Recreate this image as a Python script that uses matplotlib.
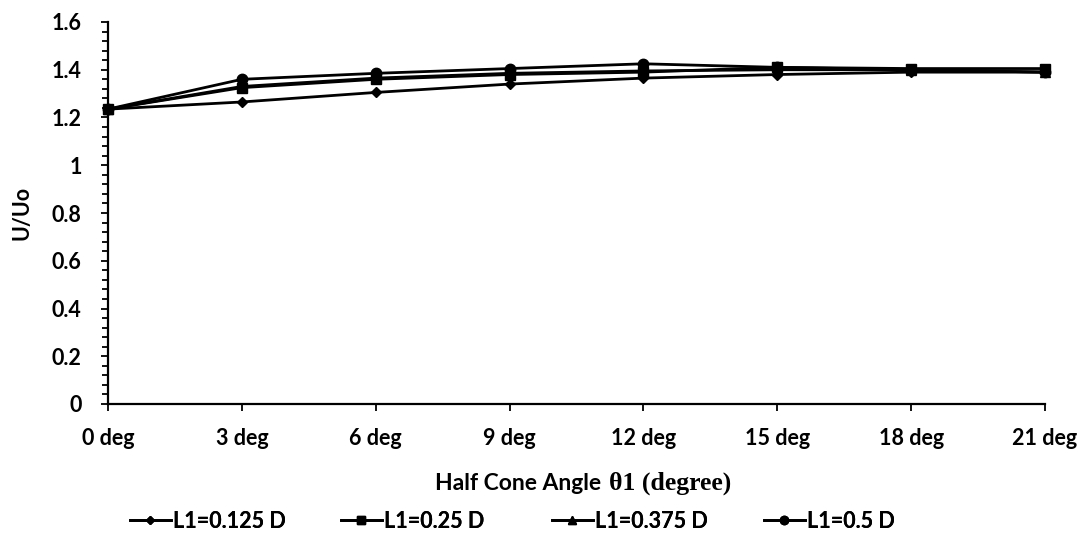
import matplotlib
matplotlib.use("Agg")
import matplotlib.pyplot as plt
from matplotlib.ticker import MultipleLocator

categories = ["0 deg", "3 deg", "6 deg", "9 deg", "12 deg", "15 deg", "18 deg", "21 deg"]
labels = ["L1=0.125 D", "L1=0.25 D", "L1=0.375 D", "L1=0.5 D"]
s_0125 = [1.235, 1.265, 1.305, 1.340, 1.365, 1.380, 1.390, 1.390]
s_025 = [1.235, 1.325, 1.360, 1.380, 1.390, 1.410, 1.405, 1.405]
s_0375 = [1.235, 1.330, 1.365, 1.385, 1.395, 1.400, 1.400, 1.390]
s_05 = [1.235, 1.360, 1.385, 1.405, 1.425, 1.410, 1.400, 1.390]
series = [s_0125, s_025, s_0375, s_05]
markers = ["D", "s", "^", "o"]
msizes = [5, 7, 7, 7.5]

W, H = 1089, 539
fig = plt.figure(figsize=(W / 100, H / 100), dpi=100)
ax = fig.add_axes([108 / W, 1 - 404 / H, (1045 - 108) / W, (404 - 22) / H])

FONT = "Lato"
FS = 15.5
x = list(range(len(categories)))
handles = []
for vals, m, ms, lab in zip(series, markers, msizes, labels):
    h, = ax.plot(x, vals, color="black", lw=2, marker=m, markersize=ms, label=lab, clip_on=False)
    handles.append(h)

ax.set_xlim(0, len(categories) - 1)
ax.set_ylim(0, 1.6)
ax.set_xticks(x)
ax.set_xticklabels(categories, fontfamily=FONT, fontweight="bold", fontsize=FS)
ax.yaxis.set_major_locator(MultipleLocator(0.2))
ax.yaxis.set_minor_locator(MultipleLocator(0.04))
ax.set_yticklabels([("%g" % v) for v in ax.get_yticks()], fontfamily=FONT, fontweight="bold", fontsize=FS)
ax.tick_params(axis="x", which="major", direction="out", length=5, width=1.3, color="black", pad=12)
ax.tick_params(axis="y", which="major", direction="out", length=5, width=1.3, color="black", pad=14)
ax.tick_params(axis="y", which="minor", direction="out", length=4, width=1.3, color="black")
for side in ["top", "right"]:
    ax.spines[side].set_visible(False)
for side in ["left", "bottom"]:
    ax.spines[side].set_linewidth(1.6)

ax.set_ylabel("U/Uo", fontfamily=FONT, fontweight="bold", fontsize=FS, labelpad=14)

fig.text(607 / W, 1 - 490 / H, "Half Cone Angle ", ha="right", va="baseline",
         fontfamily=FONT, fontweight="bold", fontsize=16.5)
fig.text(609 / W, 1 - 490 / H, "θ1 (degree)", ha="left", va="baseline",
         fontfamily="Liberation Serif", fontweight="bold", fontsize=18.5)

legend_x = [130, 341, 552, 764]
for h, lx in zip(handles, legend_x):
    lg = fig.legend(handles=[h], loc="center left", bbox_to_anchor=(lx / W, 1 - 521 / H),
                    frameon=False, prop={"family": FONT, "weight": "bold", "size": FS},
                    handlelength=1.9, handletextpad=0.1, borderaxespad=0, borderpad=0,
                    markerscale=0.8)
    fig.add_artist(lg)

fig.savefig("out.png", dpi=100)
